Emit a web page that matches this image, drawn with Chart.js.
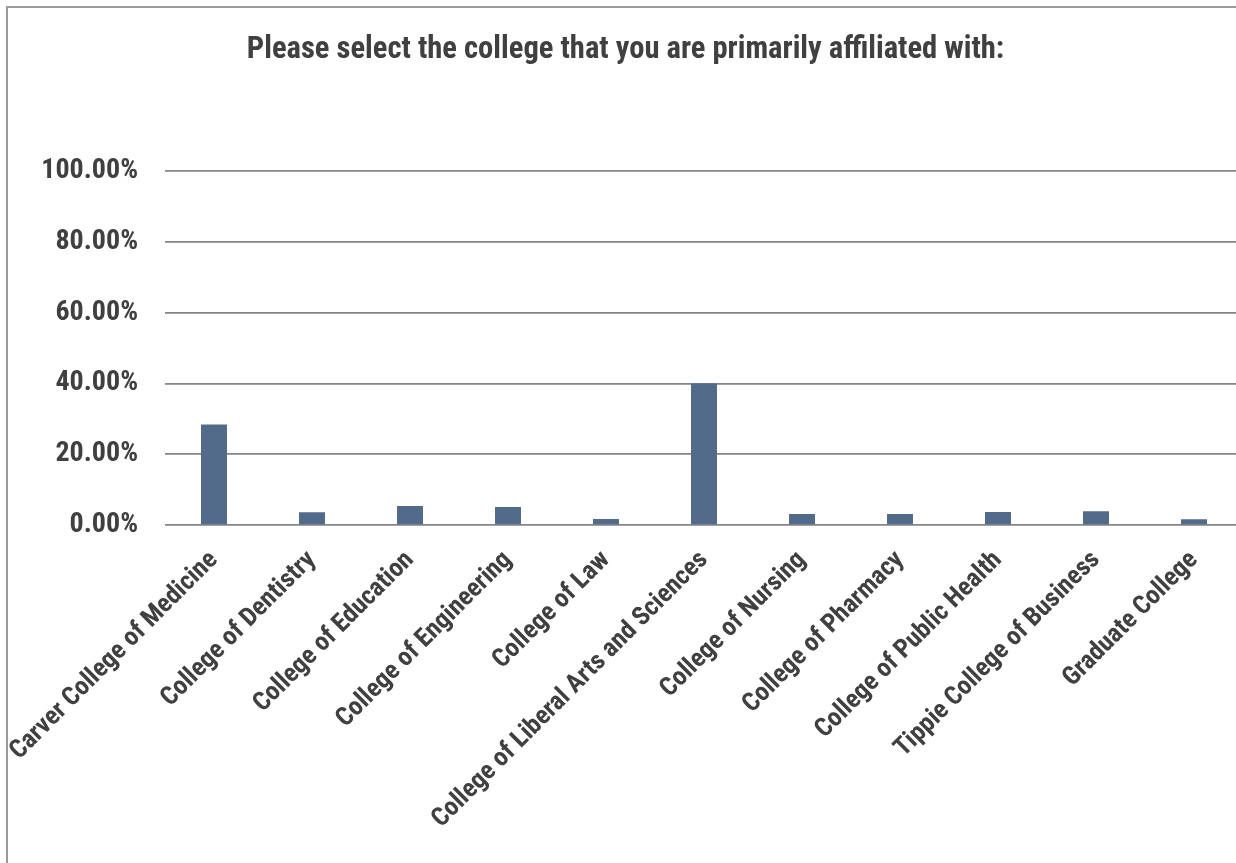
<!DOCTYPE html>
<html>
<head>
<meta charset="utf-8">
<script src="https://cdn.jsdelivr.net/npm/chart.js@4/dist/chart.umd.min.js"></script>
<style>
  html, body { margin: 0; padding: 0; background: #ffffff; overflow: hidden; width: 1236px; height: 863px; }
  #frame {
    position: absolute; left: 6px; top: 6px;
    width: 1300px; height: 900px;
    border-left: 2px solid #9a9a9a; border-top: 2px solid #9a9a9a;
    background: #ffffff;
  }
  #box { position: absolute; left: 0; top: 0; width: 1235px; height: 855px; }
</style>
</head>
<body>
<div id="frame"><div id="box"><canvas id="chart"></canvas></div></div>
<script>
// Survey question and answer categories
const chartTitle = 'Please select the college that you are primarily affiliated with:';
const colleges = [
  'Carver College of Medicine',
  'College of Dentistry',
  'College of Education',
  'College of Engineering',
  'College of Law',
  'College of Liberal Arts and Sciences',
  'College of Nursing',
  'College of Pharmacy',
  'College of Public Health',
  'Tippie College of Business',
  'Graduate College'
];
// Share of respondents per college (percent)
const shares = [28.4, 3.6, 5.4, 5.1, 1.7, 40.0, 3.1, 3.1, 3.7, 3.9, 1.6];
// Value axis ticks (percent)
const yTicks = [0, 20, 40, 60, 80, 100];

const textColor = '#404040';
const fontFamily = "'Roboto Condensed', 'Liberation Sans Narrow', 'Liberation Sans', Arial, sans-serif";

new Chart(document.getElementById('chart'), {
  type: 'bar',
  data: {
    labels: colleges,
    datasets: [{
      data: shares,
      backgroundColor: '#536b8a',
      borderWidth: 0,
      categoryPercentage: 1.0,
      barPercentage: 0.265
    }]
  },
  options: {
    responsive: true,
    maintainAspectRatio: false,
    animation: false,
    layout: { padding: 0 },
    plugins: {
      legend: { display: false },
      tooltip: { enabled: false },
      title: {
        display: true,
        text: chartTitle,
        color: textColor,
        font: { family: fontFamily, size: 30.6, weight: 'bold', lineHeight: 1.2 },
        padding: { top: 24, bottom: 102.5 }
      }
    },
    scales: {
      x: {
        grid: { display: false },
        border: { display: false },
        ticks: {
          color: textColor,
          font: { family: fontFamily, size: 26, weight: 'bold' },
          maxRotation: 45,
          minRotation: 45,
          autoSkip: false,
          padding: 12
        },
        afterFit: (scale) => {
          scale.height = 338;
          scale.paddingLeft = 0;
          scale.paddingRight = 0;
        }
      },
      y: {
        min: 0,
        max: 100,
        afterBuildTicks: (scale) => { scale.ticks = yTicks.map(v => ({ value: v })); },
        grid: { color: '#858585', lineWidth: 1.7, drawTicks: false },
        border: { display: false },
        ticks: {
          color: textColor,
          font: { family: fontFamily, size: 28, weight: 'bold' },
          padding: 27,
          callback: (v) => v.toFixed(2) + '%'
        },
        afterFit: (scale) => {
          scale.width = 157;
          scale.paddingTop = 0;
          scale.paddingBottom = 0;
        }
      }
    }
  }
});
</script>
</body>
</html>
